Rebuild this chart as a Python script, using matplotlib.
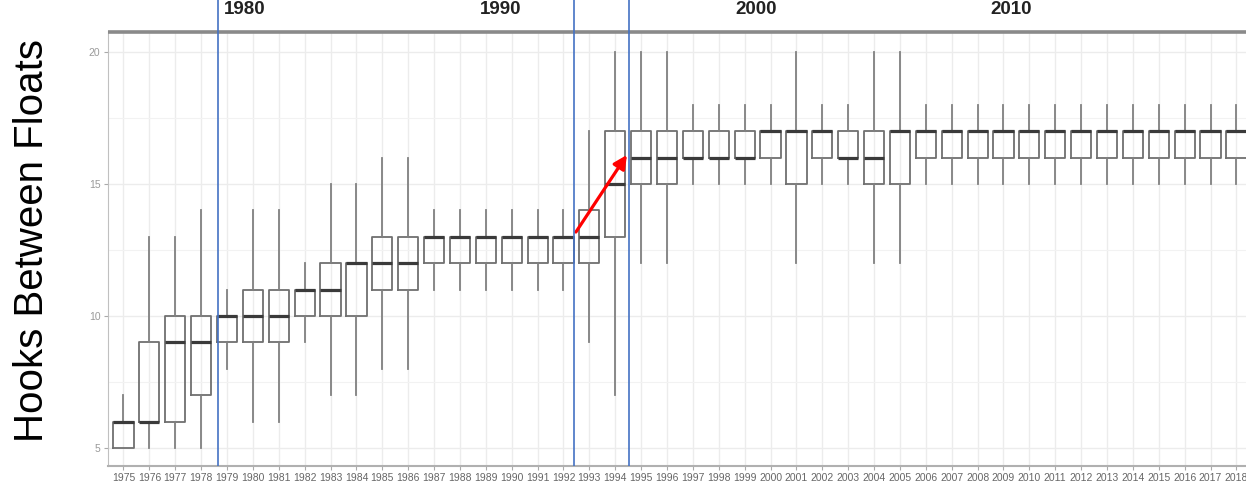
import numpy as np
import matplotlib
matplotlib.use("Agg")
import matplotlib.pyplot as plt

# ---------------- data ----------------
years = ["1975", "1976", "1977", "1978", "1979", "1980", "1981", "1982", "1983", "1984",
         "1985", "1986", "1987", "1988", "1989", "1990", "1991", "1992", "1993", "1994",
         "1995", "1996", "1997", "1998", "1999", "2000", "2001", "2002", "2003", "2004",
         "2005", "2006", "2007", "2008", "2009", "2010", "2011", "2012", "2013", "2014",
         "2015", "2016", "2017", "2018"]
whislo = [5, 5, 5, 5, 8, 6, 6, 9, 7, 7,
          8, 8, 11, 11, 11, 11, 11, 11, 9, 7,
          12, 12, 15, 15, 15, 15, 12, 15, 15, 12,
          12, 15, 15, 15, 15, 15, 15, 15, 15, 15,
          15, 15, 15, 15]
q1 = [5, 6, 6, 7, 9, 9, 9, 10, 10, 10,
      11, 11, 12, 12, 12, 12, 12, 12, 12, 13,
      15, 15, 16, 16, 16, 16, 15, 16, 16, 15,
      15, 16, 16, 16, 16, 16, 16, 16, 16, 16,
      16, 16, 16, 16]
med = [6, 6, 9, 9, 10, 10, 10, 11, 11, 12,
       12, 12, 13, 13, 13, 13, 13, 13, 13, 15,
       16, 16, 16, 16, 16, 17, 17, 17, 16, 16,
       17, 17, 17, 17, 17, 17, 17, 17, 17, 17,
       17, 17, 17, 17]
q3 = [6, 9, 10, 10, 10, 11, 11, 11, 12, 12,
      13, 13, 13, 13, 13, 13, 13, 13, 14, 17,
      17, 17, 17, 17, 17, 17, 17, 17, 17, 17,
      17, 17, 17, 17, 17, 17, 17, 17, 17, 17,
      17, 17, 17, 17]
whishi = [7, 13, 13, 14, 11, 14, 14, 12, 15, 15,
          16, 16, 14, 14, 14, 14, 14, 14, 17, 20,
          20, 20, 18, 18, 18, 18, 20, 18, 18, 20,
          20, 18, 18, 18, 18, 18, 18, 18, 18, 18,
          18, 18, 18, 18]
decades = [1980, 1990, 2000, 2010, 2020]
marker_years = [1978.92, 1992.87, 1995.02]
arrow_from = (17.48, 13.18)
arrow_to = (19.45, 16.1)

# ---------------- layout ----------------
W, H = 1246, 490
fig = plt.figure(figsize=(W / 100, H / 100), dpi=100)
fig.patch.set_facecolor("white")


def px_rect(l, t, r, b):
    return [l / W, 1 - b / H, (r - l) / W, (b - t) / H]


sans = ["Liberation Sans", "DejaVu Sans"]

ax = fig.add_axes(px_rect(107.5, 31, 1246, 466))
pos = np.arange(len(years))
stats = [dict(whislo=a, q1=b, med=c, q3=d, whishi=e, fliers=[])
         for a, b, c, d, e in zip(whislo, q1, med, q3, whishi)]
ax.bxp(stats, positions=pos, widths=0.78, showcaps=False,
       boxprops=dict(color="#707070", lw=1.3),
       medianprops=dict(color="#3a3a3a", lw=2.3),
       whiskerprops=dict(color="#808080", lw=1.3),
       manage_ticks=False)

ax.set_xlim(-0.618, 43.37)
ax.set_ylim(4.318, 20.795)
ax.set_xticks(pos)
ax.set_xticklabels(years, fontsize=7.5, color="#666666", family=sans)
ax.set_yticks([5, 10, 15, 20])
ax.set_yticklabels(["5", "10", "15", "20"], fontsize=7.5, color="#9a9a9a", family=sans)
ax.set_yticks([7.5, 12.5, 17.5], minor=True)
ax.tick_params(axis="both", which="major", length=3, color="#aaaaaa", width=0.8, pad=2)
ax.tick_params(axis="y", which="minor", length=0)
ax.set_axisbelow(True)
ax.grid(which="major", axis="both", color="#ececec", lw=1.0)
ax.grid(which="minor", axis="y", color="#f2f2f2", lw=0.8)
for s in ["top", "right"]:
    ax.spines[s].set_visible(False)
ax.spines["left"].set_color("#c0c0c0")
ax.spines["bottom"].set_color("#b0b0b0")
ax.spines["bottom"].set_linewidth(1.5)

ax.annotate("", xy=arrow_to, xytext=arrow_from,
            arrowprops=dict(arrowstyle="-|>", color="#ff0000", lw=2.3,
                            mutation_scale=20, shrinkA=0, shrinkB=0),
            annotation_clip=False, zorder=10)

# overlay decade axis with marker lines
ov = fig.add_axes(px_rect(107.5, 0, 1246, 466))
ov.patch.set_visible(False)
ov.set_axis_off()
ov.set_xlim(1974.61, 2019.21)
ov.set_ylim(0, 1)
ov.axhline((466 - 32) / 466, color="#8a8a8a", lw=2.6)
for yr in marker_years:
    ov.axvline(yr, ymin=0, ymax=1, color="#4472C4", lw=1.2)
for d in decades:
    ov.text(d, (466 - 14) / 466, str(d), ha="center", va="baseline",
            fontsize=13.5, color="#222222", family=sans,
            fontweight="bold", clip_on=False)

fig.text(32.5 / W, 1 - 240 / H, "Hooks Between Floats", rotation=90,
         ha="center", va="center", fontsize=29, color="black", family=sans)

fig.savefig("out.png", dpi=100)
